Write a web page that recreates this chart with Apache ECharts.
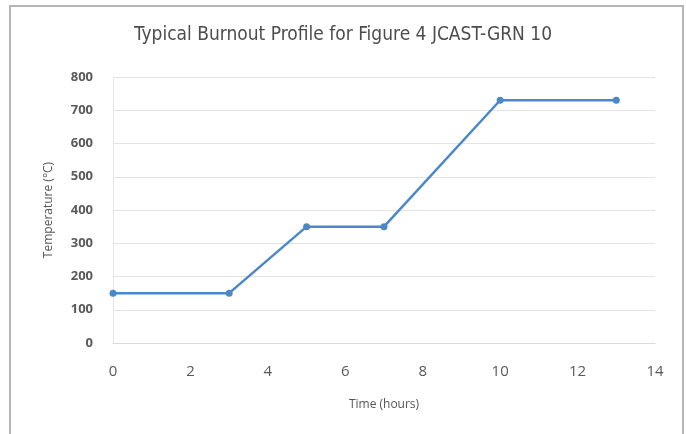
<!DOCTYPE html>
<html><head><meta charset="utf-8">
<script src="https://cdn.jsdelivr.net/npm/echarts@6/dist/echarts.min.js"></script>
<style>html,body{margin:0;padding:0;background:#fff}#c{width:686px;height:434px}</style>
</head><body><div id="c"></div>
<script>
const times = [0, 3, 5, 7, 10, 13];
const temps = [150, 150, 350, 350, 730, 730];
const title = 'Typical Burnout Profile for Figure 4 JCAST-GRN 10';
const xName = 'Time (hours)';
const yName = 'Temperature (°C)';

const chart = echarts.init(document.getElementById('c'));
chart.setOption({
  animation: false,
  backgroundColor: '#fff',
  graphic: [{
    type: 'rect', shape: {x: 10, y: 6, width: 673, height: 440},
    style: {fill: 'none', stroke: '#b5b5b5', lineWidth: 2}
  }],
  title: {
    text: title, left: 'center', top: 21,
    textStyle: {fontFamily: 'DejaVu Sans Condensed, Liberation Sans Narrow, sans-serif', fontSize: 19, fontWeight: 'normal', color: '#4d4d4d'}
  },
  grid: {left: 113, right: 31, top: 77, bottom: 91},
  xAxis: {
    type: 'value', min: 0, max: 14, interval: 2,
    name: xName, nameLocation: 'middle', nameGap: 56,
    nameTextStyle: {fontFamily: 'Open Sans, sans-serif', fontSize: 12, color: '#555'},
    axisLine: {show: true, lineStyle: {color: '#d9d9d9', width: 1}},
    axisTick: {show: false},
    splitLine: {show: false},
    axisLabel: {fontFamily: 'Open Sans, sans-serif', fontSize: 15, color: '#595959', margin: 21}
  },
  yAxis: {
    type: 'value', min: 0, max: 800, interval: 100,
    name: yName, nameLocation: 'middle', nameGap: 58, nameRotate: 90,
    nameTextStyle: {fontFamily: 'Open Sans, sans-serif', fontSize: 12, color: '#555'},
    axisLine: {show: true, lineStyle: {color: '#e6e6e6', width: 1}},
    axisTick: {show: false},
    splitLine: {show: true, lineStyle: {color: '#e3e3e3', width: 1}},
    axisLabel: {fontFamily: 'Open Sans, sans-serif', fontSize: 13, fontWeight: 'bold', color: '#595959', margin: 20}
  },
  series: [{
    type: 'line',
    data: times.map((t, i) => [t, temps[i]]),
    symbol: 'circle', symbolSize: 7,
    lineStyle: {color: '#4a88ca', width: 2.5},
    itemStyle: {color: '#4a88ca'}
  }]
});
</script></body></html>
